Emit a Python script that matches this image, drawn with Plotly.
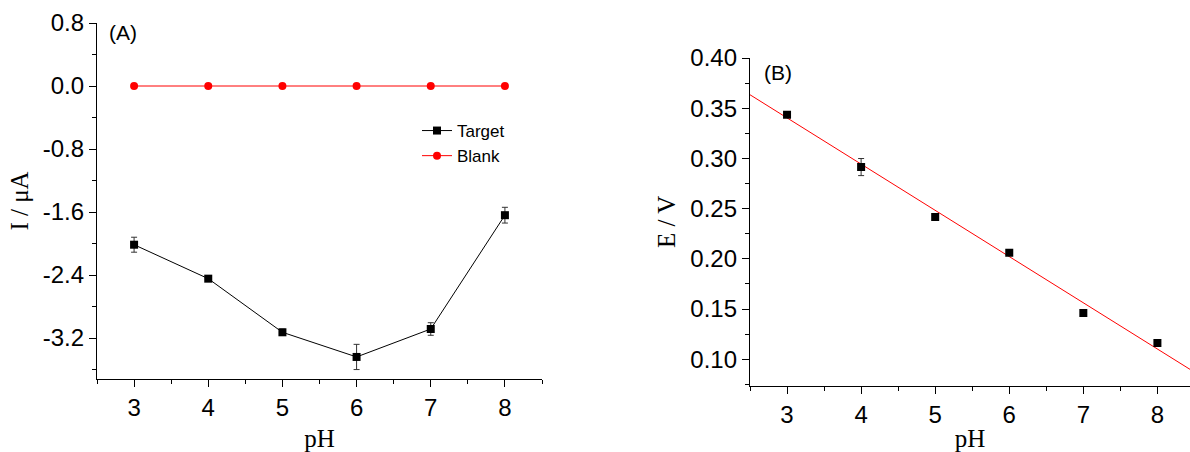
import plotly.graph_objects as go

# ---- data ----
ph = [3, 4, 5, 6, 7, 8]
target_current = [-2.015, -2.446, -3.127, -3.44, -3.085, -1.64]
target_err = [0.095, 0.03, 0.04, 0.16, 0.08, 0.10]
blank_current = [0.0, 0.0, 0.0, 0.0, 0.0, 0.0]

potential = [0.3435, 0.2914, 0.2416, 0.2061, 0.146, 0.1161]
potential_err = [0.002, 0.0085, 0.003, 0.002, 0.002, 0.002]
fit_ph = [2.5, 8.5]
fit_potential = [0.3634, 0.0872]

yA_ticks = [0.8, 0.0, -0.8, -1.6, -2.4, -3.2]
yA_text = ["0.8", "0.0", "-0.8", "-1.6", "-2.4", "-3.2"]
yB_ticks = [0.10, 0.15, 0.20, 0.25, 0.30, 0.35, 0.40]
yB_text = ["0.10", "0.15", "0.20", "0.25", "0.30", "0.35", "0.40"]
x_ticks = [3, 4, 5, 6, 7, 8]
x_text = ["3", "4", "5", "6", "7", "8"]

SANS = "Liberation Sans, Arial, sans-serif"
SERIF = "Liberation Serif, Times New Roman, serif"
W, H = 1190, 452

fig = go.Figure()

fig.add_trace(go.Scatter(
    x=ph, y=target_current, name="Target", mode="lines+markers",
    line=dict(color="black", width=1),
    marker=dict(symbol="square", size=8, color="black"),
    error_y=dict(type="data", array=target_err, color="#333333", thickness=1, width=3),
    xaxis="x", yaxis="y"))
fig.add_trace(go.Scatter(
    x=ph, y=blank_current, name="Blank", mode="lines+markers",
    line=dict(color="#ff0000", width=1),
    marker=dict(symbol="circle", size=8, color="#ff0000"),
    xaxis="x", yaxis="y"))

fig.add_trace(go.Scatter(
    x=fit_ph, y=fit_potential, mode="lines", showlegend=False,
    line=dict(color="#ff0000", width=1), xaxis="x2", yaxis="y2"))
fig.add_trace(go.Scatter(
    x=ph, y=potential, mode="markers", showlegend=False,
    marker=dict(symbol="square", size=8, color="black"),
    error_y=dict(type="data", array=potential_err, color="#333333", thickness=1, width=3),
    xaxis="x2", yaxis="y2"))

axis_common = dict(showgrid=False, zeroline=False, showline=True, linecolor="black",
                   linewidth=1.3, ticks="outside", ticklen=7, tickwidth=1.3,
                   tickcolor="black", automargin=False,
                   tickfont=dict(family=SANS, size=24, color="black"))
title_font = dict(family=SERIF, size=25, color="black")

fig.update_layout(
    width=W, height=H, margin=dict(l=0, r=0, t=0, b=0),
    paper_bgcolor="white", plot_bgcolor="white",
    showlegend=True,
    legend=dict(x=417 / W, y=1 - 113 / H, xanchor="left", yanchor="top",
                font=dict(family=SANS, size=17, color="black"),
                bgcolor="rgba(0,0,0,0)", tracegroupgap=0, itemwidth=30),
    xaxis=dict(domain=[97 / W, 542 / W], range=[2.5, 8.5], anchor="y",
               tickvals=x_ticks, ticktext=x_text,
               minor=dict(tickvals=[2.5, 3.5, 4.5, 5.5, 6.5, 7.5, 8.5], ticklen=4,
                          tickcolor="black", tickwidth=1.3, ticks="outside"),
               title=dict(text="pH", font=title_font, standoff=10),
               **axis_common),
    yaxis=dict(domain=[1 - 379 / H, 1 - 23 / H], range=[-3.72, 0.8], anchor="x",
               tickvals=yA_ticks, ticktext=yA_text,
               minor=dict(tickvals=[0.4, -0.4, -1.2, -2.0, -2.8, -3.6], ticklen=4,
                          tickcolor="black", tickwidth=1.3, ticks="outside"),
               title=dict(text="I / μA", font=title_font, standoff=6),
               **axis_common),
    xaxis2=dict(domain=[750 / W, 1.0], range=[2.5, 8.44], anchor="y2",
                tickvals=x_ticks, ticktext=x_text,
                minor=dict(tickvals=[2.5, 3.5, 4.5, 5.5, 6.5, 7.5], ticklen=4,
                           tickcolor="black", tickwidth=1.3, ticks="outside"),
                title=dict(text="pH", font=title_font, standoff=10),
                **axis_common),
    yaxis2=dict(domain=[1 - 385.7 / H, 1 - 58 / H], range=[0.0737, 0.40], anchor="x2",
                tickvals=yB_ticks, ticktext=yB_text,
                minor=dict(tickvals=[0.075, 0.125, 0.175, 0.225, 0.275, 0.325, 0.375], ticklen=4,
                           tickcolor="black", tickwidth=1.3, ticks="outside"),
                title=dict(text="E / V", font=title_font, standoff=7),
                **axis_common),
    annotations=[
        dict(text="(A)", x=107 / W, y=1 - 32 / H, xref="paper", yref="paper",
             xanchor="left", yanchor="middle", showarrow=False,
             font=dict(family=SANS, size=21, color="black")),
        dict(text="(B)", x=762 / W, y=1 - 73 / H, xref="paper", yref="paper",
             xanchor="left", yanchor="middle", showarrow=False,
             font=dict(family=SANS, size=21, color="black")),
    ],
)

fig.write_html("out.html", config={"displayModeBar": False},
               post_script="document.body.style.margin='0';")
